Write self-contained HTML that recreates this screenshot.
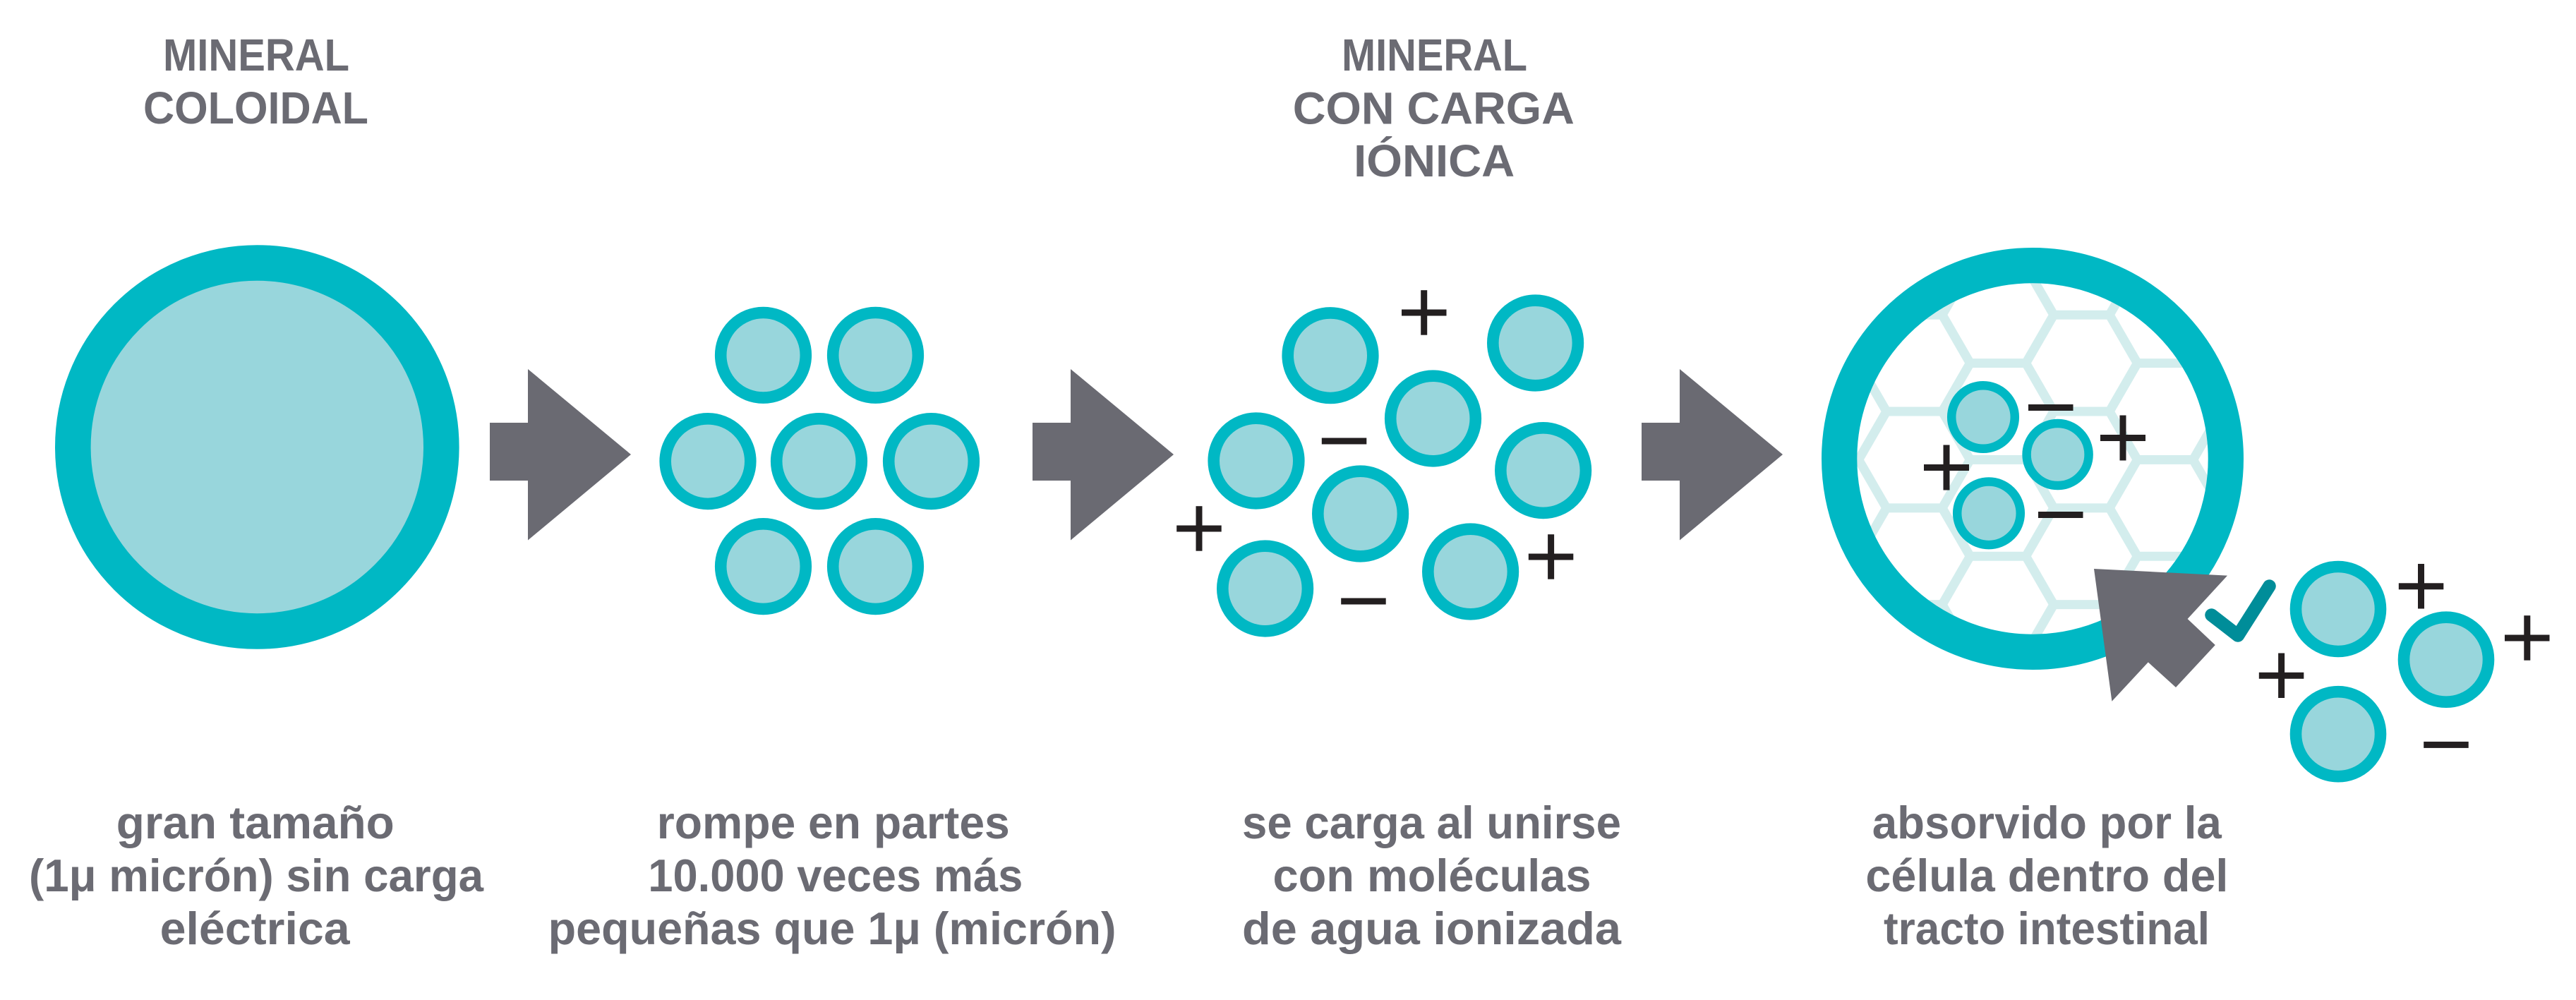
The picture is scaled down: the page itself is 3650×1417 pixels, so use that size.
<!DOCTYPE html>
<html>
<head>
<meta charset="utf-8">
<style>
html,body{margin:0;padding:0;background:#fff;width:3650px;height:1417px;overflow:hidden}
svg{display:block}
.t{font-family:"Liberation Sans",Arial,sans-serif;font-weight:bold;fill:#6b6b73;text-anchor:middle}
.h{font-size:64px}
.b{font-size:65px}
</style>
</head>
<body>
<svg width="3650" height="1417" viewBox="0 0 3650 1417" xmlns="http://www.w3.org/2000/svg">
<defs>
  <pattern id="hex" patternUnits="userSpaceOnUse" x="2712.5" y="514.6" width="237" height="136.83">
    <path d="M39.5,68.415 L79,0 L158,0 L197.5,68.415 L158,136.83 L79,136.83 Z M0,68.415 L39.5,68.415 M197.5,68.415 L237,68.415" fill="none" stroke="#d3eded" stroke-width="13"/>
  </pattern>
</defs>
<rect x="0" y="0" width="3650" height="1417" fill="#fff"/>

<!-- Headings -->
<text class="t h" x="363" y="100" textLength="264" lengthAdjust="spacingAndGlyphs">MINERAL</text>
<text class="t h" x="362.5" y="175" textLength="319" lengthAdjust="spacingAndGlyphs">COLOIDAL</text>

<text class="t h" x="2032.5" y="100" textLength="263" lengthAdjust="spacingAndGlyphs">MINERAL</text>
<text class="t h" x="2031.3" y="175.4" textLength="399" lengthAdjust="spacingAndGlyphs">CON CARGA</text>
<text class="t h" x="2032.2" y="250" textLength="228" lengthAdjust="spacingAndGlyphs">IÓNICA</text>

<!-- Group 1: big circle -->
<circle cx="364.3" cy="633.5" r="261" fill="#98d6dc" stroke="#00b8c4" stroke-width="50.6"/>

<!-- Arrows -->
<g fill="#6a6a72">
  <polygon points="694,599 748,599 748,523 894,644 748,765.5 748,681 694,681"/>
  <polygon points="1463,599 1517,599 1517,523 1663,644 1517,765.5 1517,681 1463,681"/>
  <polygon points="2326,599 2380,599 2380,523 2526,644 2380,765.5 2380,681 2326,681"/>
</g>

<!-- Group 2: seven circles -->
<g fill="#98d6dc" stroke="#00b8c4" stroke-width="16.6">
  <circle cx="1081.5" cy="503.3" r="60.3"/>
  <circle cx="1240.5" cy="503.3" r="60.3"/>
  <circle cx="1003" cy="653.6" r="60.3"/>
  <circle cx="1160.5" cy="653.6" r="60.3"/>
  <circle cx="1319.5" cy="653.6" r="60.3"/>
  <circle cx="1081.5" cy="802.6" r="60.3"/>
  <circle cx="1240.5" cy="802.6" r="60.3"/>
</g>

<!-- Group 3: ionic circles -->
<g fill="#98d6dc" stroke="#00b8c4" stroke-width="16.6">
  <circle cx="1885" cy="503.7" r="60.3"/>
  <circle cx="2175.6" cy="486" r="60.3"/>
  <circle cx="2030.5" cy="593" r="60.3"/>
  <circle cx="1780" cy="653" r="60.3"/>
  <circle cx="2186.6" cy="666.6" r="60.3"/>
  <circle cx="1927.6" cy="728" r="60.3"/>
  <circle cx="1792.6" cy="834" r="60.3"/>
  <circle cx="2083.6" cy="810" r="60.3"/>
</g>
<g fill="#231f20">
  <!-- plus 1 -->
  <rect x="1986" y="438.5" width="63.5" height="9"/><rect x="2013.2" y="411.2" width="9" height="63.5"/>
  <!-- minus 1 -->
  <rect x="1872.8" y="620.5" width="63.5" height="9"/>
  <!-- plus 2 -->
  <rect x="1667.2" y="744.5" width="63.5" height="9"/><rect x="1694.5" y="717.2" width="9" height="63.5"/>
  <!-- minus 2 -->
  <rect x="1900.2" y="847.5" width="63.5" height="9"/>
  <!-- plus 3 -->
  <rect x="2165.8" y="784.5" width="63.5" height="9"/><rect x="2193.1" y="757.2" width="9" height="63.5"/>
</g>

<!-- Group 4: cell -->
<circle cx="2880" cy="650" r="252" fill="url(#hex)"/>
<circle cx="2880" cy="650" r="273.85" fill="none" stroke="#00b8c4" stroke-width="50.3"/>
<g fill="#98d6dc" stroke="#00b8c4" stroke-width="12.5">
  <circle cx="2810" cy="591" r="44.8"/>
  <circle cx="2915.6" cy="644" r="44"/>
  <circle cx="2818" cy="727.3" r="44.8"/>
</g>
<g fill="#231f20">
  <rect x="2726" y="658" width="64" height="9"/><rect x="2753.5" y="630.5" width="9" height="64"/>
  <rect x="2874" y="573" width="63.5" height="9"/>
  <rect x="2976" y="616" width="64" height="9"/><rect x="3003.5" y="588.5" width="9" height="64"/>
  <rect x="2888" y="725" width="63.5" height="9"/>
</g>

<!-- outside circles -->
<g fill="#98d6dc" stroke="#00b8c4" stroke-width="16.6">
  <circle cx="3313" cy="863" r="60"/>
  <circle cx="3466" cy="934.7" r="60"/>
  <circle cx="3313" cy="1040.2" r="60"/>
</g>
<g fill="#231f20">
  <rect x="3398.8" y="826.3" width="63.5" height="9"/><rect x="3426" y="799" width="9" height="63.5"/>
  <rect x="3549" y="899.5" width="63.5" height="9"/><rect x="3576.3" y="872.2" width="9" height="63.5"/>
  <rect x="3200.8" y="952.8" width="63.5" height="9"/><rect x="3228.1" y="925.5" width="9" height="63.5"/>
  <rect x="3434.2" y="1050.9" width="63.5" height="9"/>
</g>

<!-- cursor -->
<polygon points="2967,806 3156,815.6 3099.6,877 3138.8,914 3083,974 3043.8,938.4 2992.4,993.8" fill="#6a6a72"/>
<!-- checkmark -->
<polyline points="3133.5,871.5 3171,900.5 3215.5,830.5" fill="none" stroke="#008d99" stroke-width="18.5" stroke-linecap="round" stroke-linejoin="round"/>

<!-- Body texts -->
<text class="t b" x="361.8" y="1188" textLength="394" lengthAdjust="spacingAndGlyphs">gran tamaño</text>
<text class="t b" x="363" y="1263" textLength="644" lengthAdjust="spacingAndGlyphs">(1μ micrón) sin carga</text>
<text class="t b" x="361.1" y="1338" textLength="269" lengthAdjust="spacingAndGlyphs">eléctrica</text>

<text class="t b" x="1180.8" y="1188" textLength="500" lengthAdjust="spacingAndGlyphs">rompe en partes</text>
<text class="t b" x="1183.8" y="1263" textLength="531" lengthAdjust="spacingAndGlyphs">10.000 veces más</text>
<text class="t b" x="1179.1" y="1338" textLength="805" lengthAdjust="spacingAndGlyphs">pequeñas que 1μ (micrón)</text>

<text class="t b" x="2028.5" y="1188" textLength="537" lengthAdjust="spacingAndGlyphs">se carga al unirse</text>
<text class="t b" x="2029" y="1263" textLength="451" lengthAdjust="spacingAndGlyphs">con moléculas</text>
<text class="t b" x="2028.5" y="1338" textLength="537" lengthAdjust="spacingAndGlyphs">de agua ionizada</text>

<text class="t b" x="2900.3" y="1188" textLength="495" lengthAdjust="spacingAndGlyphs">absorvido por la</text>
<text class="t b" x="2900.4" y="1263" textLength="514" lengthAdjust="spacingAndGlyphs">célula dentro del</text>
<text class="t b" x="2900" y="1338" textLength="462" lengthAdjust="spacingAndGlyphs">tracto intestinal</text>
</svg>
</body>
</html>
